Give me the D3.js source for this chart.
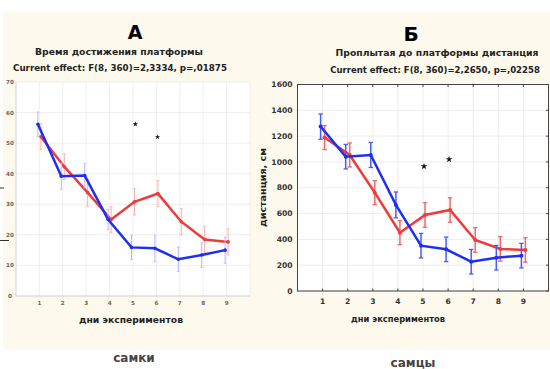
<!DOCTYPE html>
<html>
<head>
<meta charset="utf-8">
<script src="https://cdn.jsdelivr.net/npm/d3@7"></script>
<style>
  body { margin: 0; background: #fff; }
  svg text { font-family: "DejaVu Sans", Verdana, sans-serif; }
</style>
</head>
<body>
<div id="chart"></div>
<script>
////////////////////////////////// Data //////////////////////////////////
var days = [1, 2, 3, 4, 5, 6, 7, 8, 9];

// A: time to platform (females)
var timeBlue    = [56.2, 39.2, 39.4, 25.0, 15.9, 15.6, 12.0, 13.4, 15.0];
var timeBlueErr = [4.0, 4.3, 4.0, 3.3, 4.0, 4.3, 4.0, 4.0, 4.3];
var timeRed     = [52.1, 42.3, 33.8, 25.0, 30.8, 33.5, 24.3, 18.5, 17.7];
var timeRedErr  = [4.2, 4.2, 4.5, 4.3, 4.3, 4.3, 4.3, 4.3, 4.3];
var timeStars   = [[5.1, 56.2], [6.05, 52]];
var timeTicks   = [0, 10, 20, 30, 40, 50, 60, 70];

// Б: distance swum (males)
var distBlue    = [1274, 1041, 1054, 667, 351, 323, 227, 258, 274];
var distBlueErr = [98, 95, 97, 100, 95, 95, 95, 95, 95];
var distRed     = [1189, 1054, 762, 452, 589, 628, 395, 326, 318];
var distRedErr  = [93, 93, 93, 93, 95, 95, 95, 95, 95];
var distStars   = [[5.04, 965], [6.04, 1020]];
var distTicks   = [0, 200, 400, 600, 800, 1000, 1200, 1400, 1600];

var blue = "#1f2ff0", red = "#ef3b3b";

var svg = d3.select("#chart").append("svg")
  .attr("width", 550).attr("height", 369);

// cream panel
svg.append("rect").attr("x", 3).attr("y", 12).attr("width", 547).attr("height", 338)
  .attr("fill", "#fdf9ec");

// scale a label's font so it spans the width seen in the picture
function fitWidth(sel, w) {
  var fs = +sel.attr("font-size");
  var len = sel.node().getComputedTextLength();
  if (len > 0) sel.attr("font-size", (fs * w / len).toFixed(2));
  return sel;
}

function label(g, x, y, size, text, w, weight, fill) {
  var t = g.append("text").attr("x", x).attr("y", y).attr("text-anchor", "middle")
    .attr("font-size", size).attr("font-weight", weight || "bold").attr("fill", fill || "#222")
    .text(text);
  if (w) fitWidth(t, w);
  return t;
}

var star = d3.symbol().type(d3.symbolStar);

////////////////////////////////// Panel A //////////////////////////////////
(function () {
  var x = d3.scaleLinear().domain([0, 10]).range([16, 250]);
  var y = d3.scaleLinear().domain([0, 70]).range([296, 82]);
  var g = svg.append("g");

  g.append("rect").attr("x", x(0)).attr("y", y(70))
    .attr("width", x(10) - x(0)).attr("height", y(0) - y(70)).attr("fill", "#fff");

  g.selectAll(".gx").data(days.concat([10])).join("line")
    .attr("x1", d => x(d)).attr("x2", d => x(d))
    .attr("y1", y(0)).attr("y2", y(70))
    .attr("stroke", "#ebebeb").attr("stroke-width", 0.8);
  g.selectAll(".gy").data(timeTicks).join("line")
    .attr("x1", x(0)).attr("x2", x(10))
    .attr("y1", d => y(d)).attr("y2", d => y(d))
    .attr("stroke", "#ebebeb").attr("stroke-width", 0.8);

  g.append("line").attr("x1", x(0)).attr("x2", x(0)).attr("y1", y(0)).attr("y2", y(70))
    .attr("stroke", "#d4d4d4");
  g.append("line").attr("x1", x(0)).attr("x2", x(10)).attr("y1", y(0)).attr("y2", y(0))
    .attr("stroke", "#d4d4d4");

  g.selectAll(".ty").data(timeTicks).join("text")
    .attr("x", 10).attr("y", d => y(d) + 2)
    .attr("text-anchor", "middle").attr("font-size", 5.6).attr("font-weight", "bold").attr("fill", "#666")
    .text(d => d);
  g.selectAll(".tx").data(days).join("text")
    .attr("x", d => x(d)).attr("y", 305)
    .attr("text-anchor", "middle").attr("font-size", 5.6).attr("font-weight", "bold").attr("fill", "#666")
    .text(d => d);

  // stray marks at left edge
  g.append("line").attr("x1", 0).attr("x2", 4).attr("y1", 188).attr("y2", 188).attr("stroke", "#333");
  g.append("line").attr("x1", 0).attr("x2", 9).attr("y1", 240.5).attr("y2", 240.5).attr("stroke", "#333");

  function series(vals, errs, color, errColor, dx) {
    var pts = days.map((d, i) => ({ d: d, v: vals[i], e: errs[i] }));
    g.selectAll(null).data(pts).join("g").each(function (p) {
      var s = d3.select(this), cx = x(p.d) + dx;
      s.append("line").attr("x1", cx).attr("x2", cx).attr("y1", y(p.v - p.e)).attr("y2", y(p.v + p.e))
        .attr("stroke", errColor).attr("stroke-width", 1);
      [p.v - p.e, p.v + p.e].forEach(v => s.append("line")
        .attr("x1", cx - 1.5).attr("x2", cx + 1.5).attr("y1", y(v)).attr("y2", y(v))
        .attr("stroke", errColor).attr("stroke-width", 0.8));
    });
    g.append("path").datum(pts)
      .attr("d", d3.line().x(p => x(p.d) + dx).y(p => y(p.v)))
      .attr("fill", "none").attr("stroke", color).attr("stroke-width", 2.5);
    g.selectAll(null).data(pts).join("circle")
      .attr("cx", p => x(p.d) + dx).attr("cy", p => y(p.v)).attr("r", 1.8).attr("fill", color);
  }
  series(timeRed, timeRedErr, red, "#f5b0b0", 1.5);
  series(timeBlue, timeBlueErr, blue, "#b5bbf8", -1.5);

  g.selectAll(".star").data(timeStars).join("path")
    .attr("transform", d => "translate(" + x(d[0]) + "," + y(d[1]) + ")")
    .attr("d", star.size(9)).attr("fill", "#111");

  label(g, 135, 39, 19, "А", null, "bold", "#000").attr("font-family", "Liberation Sans, Arial, sans-serif");
  label(g, 119, 55, 8, "Время достижения платформы", 168);
  label(g, 120, 71, 8, "Current effect: F(8, 360)=2,3334, p=,01875", 214);
  label(g, 131, 322.5, 8, "дни экспериментов", 104);
})();

////////////////////////////////// Panel Б //////////////////////////////////
(function () {
  var x = d3.scaleLinear().domain([0, 10]).range([297.5, 548.5]);
  var y = d3.scaleLinear().domain([0, 1600]).range([291, 84.5]);
  var g = svg.append("g");

  g.append("rect").attr("x", x(0)).attr("y", y(1600))
    .attr("width", x(10) - x(0)).attr("height", y(0) - y(1600)).attr("fill", "#fff");

  g.selectAll(".gx").data(days).join("line")
    .attr("x1", d => x(d)).attr("x2", d => x(d))
    .attr("y1", y(0)).attr("y2", y(1600))
    .attr("stroke", "#e8e8e8").attr("stroke-width", 0.8);
  g.selectAll(".gy").data(distTicks).join("line")
    .attr("x1", x(0)).attr("x2", x(10))
    .attr("y1", d => y(d)).attr("y2", d => y(d))
    .attr("stroke", "#e8e8e8").attr("stroke-width", 0.8);

  g.append("rect").attr("x", x(0)).attr("y", y(1600))
    .attr("width", x(10) - x(0)).attr("height", y(0) - y(1600))
    .attr("fill", "none").attr("stroke", "#444").attr("stroke-width", 1);

  // tick marks on frame
  g.selectAll(".tkx").data(days).join("line")
    .attr("x1", d => x(d)).attr("x2", d => x(d)).attr("y1", y(0)).attr("y2", y(0) - 2.5)
    .attr("stroke", "#444");
  g.selectAll(".tkx2").data(days).join("line")
    .attr("x1", d => x(d)).attr("x2", d => x(d)).attr("y1", y(1600)).attr("y2", y(1600) + 2.5)
    .attr("stroke", "#444");
  g.selectAll(".tky").data(distTicks).join("line")
    .attr("x1", x(10)).attr("x2", x(10) - 2.5).attr("y1", d => y(d)).attr("y2", d => y(d))
    .attr("stroke", "#444");

  g.selectAll(".ty").data(distTicks).join("text")
    .attr("x", 292.5).attr("y", d => y(d) + 2.6)
    .attr("text-anchor", "end").attr("font-size", 7.6).attr("font-weight", "bold").attr("fill", "#333")
    .text(d => d);
  g.selectAll(".tx").data(days).join("text")
    .attr("x", d => x(d)).attr("y", 303.5)
    .attr("text-anchor", "middle").attr("font-size", 7.6).attr("font-weight", "bold").attr("fill", "#333")
    .text(d => d);

  function series(vals, errs, color, errColor, dx) {
    var pts = days.map((d, i) => ({ d: d, v: vals[i], e: errs[i] }));
    g.selectAll(null).data(pts).join("g").each(function (p) {
      var s = d3.select(this), cx = x(p.d) + dx;
      s.append("line").attr("x1", cx).attr("x2", cx).attr("y1", y(p.v - p.e)).attr("y2", y(p.v + p.e))
        .attr("stroke", errColor).attr("stroke-width", 1.5);
      [p.v - p.e, p.v + p.e].forEach(v => s.append("line")
        .attr("x1", cx - 2.2).attr("x2", cx + 2.2).attr("y1", y(v)).attr("y2", y(v))
        .attr("stroke", errColor).attr("stroke-width", 1.3));
    });
    g.append("path").datum(pts)
      .attr("d", d3.line().x(p => x(p.d) + dx).y(p => y(p.v)))
      .attr("fill", "none").attr("stroke", color).attr("stroke-width", 2.5);
    g.selectAll(null).data(pts).join("circle")
      .attr("cx", p => x(p.d) + dx).attr("cy", p => y(p.v)).attr("r", 2).attr("fill", color);
  }
  series(distRed, distRedErr, red, "#f06a6a", 2);
  series(distBlue, distBlueErr, blue, "#4c5cf2", -2);

  g.selectAll(".star").data(distStars).join("path")
    .attr("transform", d => "translate(" + x(d[0]) + "," + y(d[1]) + ")")
    .attr("d", star.size(14)).attr("fill", "#111");

  label(g, 411, 41, 20, "Б", null, "bold", "#000").attr("font-family", "Liberation Sans, Arial, sans-serif");
  label(g, 437, 56, 8, "Проплытая до платформы дистанция", 203);
  label(g, 435, 72.5, 8, "Current effect: F(8, 360)=2,2650, p=,02258", 210);
  label(g, 398, 322, 8, "дни экспериментов", 94);
  var yl = label(g, 0, 0, 8, "дистанция, см", 79);
  yl.attr("transform", "translate(265.5,187.5) rotate(-90)");
})();

svg.append("text").attr("x", 134).attr("y", 362).attr("text-anchor", "middle")
  .attr("font-family", "Liberation Sans, Arial, sans-serif")
  .attr("font-size", 12).attr("font-weight", "bold").attr("fill", "#444").text("самки");
svg.append("text").attr("x", 413).attr("y", 367).attr("text-anchor", "middle")
  .attr("font-family", "Liberation Sans, Arial, sans-serif")
  .attr("font-size", 12).attr("font-weight", "bold").attr("fill", "#444").text("самцы");
</script>
</body>
</html>
